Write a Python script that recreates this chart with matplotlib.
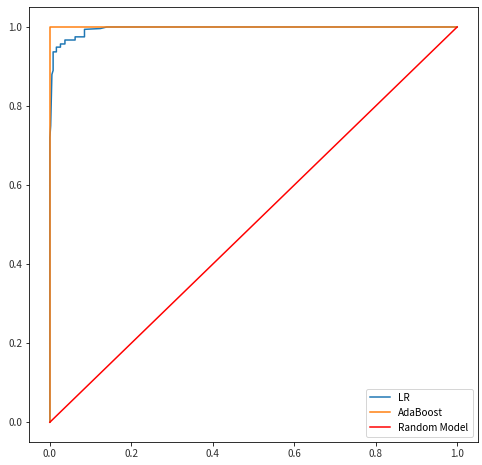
import numpy as np
import matplotlib
matplotlib.use("Agg")
from matplotlib import pyplot as plt

plt.rcParams['font.family'] = ['Noto Sans CJK KR', 'DejaVu Sans']
plt.rcParams['axes.unicode_minus'] = False

# ROC - regresja logistyczna
lr_fpr = [0, 0, 0.002, 0.005, 0.008, 0.008, 0.016, 0.016, 0.026, 0.026, 0.037, 0.037,
          0.062, 0.062, 0.085, 0.085, 0.124, 0.14, 1.0]
lr_tpr = [0, 0.72, 0.75, 0.88, 0.89, 0.937, 0.937, 0.949, 0.949, 0.957, 0.957, 0.967,
          0.967, 0.975, 0.975, 0.994, 0.996, 1.0, 1.0]
# ROC - AdaBoost
ada_fpr = [0, 0, 1.0]
ada_tpr = [0, 1.0, 1.0]
# losowy model
rand_fpr = [0, 1]
rand_tpr = [0, 1]

fig = plt.figure(figsize=(482 / 72, 465 / 72), dpi=72)
ax = fig.add_axes([0.0612, 0.0495, 0.9295, 0.935])
ax.plot(lr_fpr, lr_tpr, label="LR", color="tab:blue", lw=1.5)
ax.plot(ada_fpr, ada_tpr, label="AdaBoost", color="tab:orange", lw=1.5)
ax.plot(rand_fpr, rand_tpr, label="Random Model", color="red", lw=1.5)
ax.tick_params(labelsize=10, labelcolor="#333333")
ax.legend(loc="lower right", fontsize=10)
fig.savefig("out.png", dpi=72)
